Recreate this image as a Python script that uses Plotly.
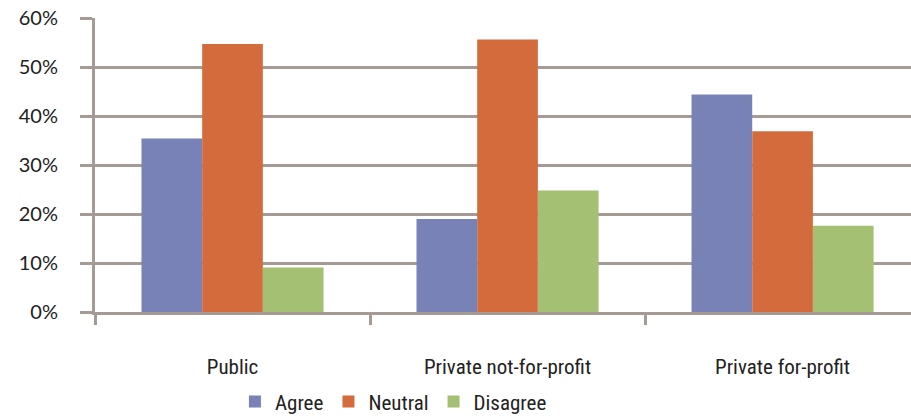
import plotly.graph_objects as go

categories = ["Public", "Private not-for-profit", "Private for-profit"]
agree = [35.4, 19.0, 44.4]
neutral = [54.7, 55.6, 36.9]
disagree = [9.1, 24.8, 17.6]
y_ticks = [0, 10, 20, 30, 40, 50, 60]
y_tick_labels = [f"{v}%" for v in y_ticks]

colors = {"Agree": "#7882B6", "Neutral": "#D46B3C", "Disagree": "#A3C073"}
grid = "#A69A94"
font_cond = "Roboto Condensed, Liberation Sans Narrow, DejaVu Sans Condensed, sans-serif"

fig = go.Figure()
for name, vals in [("Agree", agree), ("Neutral", neutral), ("Disagree", disagree)]:
    fig.add_trace(go.Bar(x=categories, y=vals, name=name,
                         marker=dict(color=colors[name], line=dict(width=0))))

fig.update_layout(
    width=911, height=418,
    margin=dict(l=95, r=0, t=18, b=106, autoexpand=False),
    paper_bgcolor="white", plot_bgcolor="white",
    barmode="group", bargap=0.338, bargroupgap=0,
    showlegend=True,
    legend=dict(orientation="h", x=0.1715, xanchor="left", y=-0.306, yanchor="middle",
                font=dict(family=font_cond, size=21, color="#222222"),
                itemwidth=30, bgcolor="rgba(0,0,0,0)"),
    font=dict(family=font_cond, size=21, color="#222222"),
)
fig.update_xaxes(
    range=[-0.5, 2.467], showgrid=False, showline=True, linecolor=grid, linewidth=3,
    ticks="outside", tickson="boundaries", ticklen=10, tickwidth=3, tickcolor=grid,
    ticklabelstandoff=34, automargin=False,
    tickfont=dict(family=font_cond, size=21, color="#222222"),
)
fig.update_yaxes(
    range=[0, 60], tickmode="array", tickvals=y_ticks, ticktext=y_tick_labels,
    showgrid=True, gridcolor=grid, gridwidth=3, automargin=False,
    showline=True, linecolor=grid, linewidth=3, zeroline=False,
    ticks="outside", ticklen=12, tickwidth=3, tickcolor=grid, ticklabelstandoff=18,
    tickfont=dict(family="Lato, Open Sans, sans-serif", size=20, color="#222222"),
)

fig.write_html("out.html")
